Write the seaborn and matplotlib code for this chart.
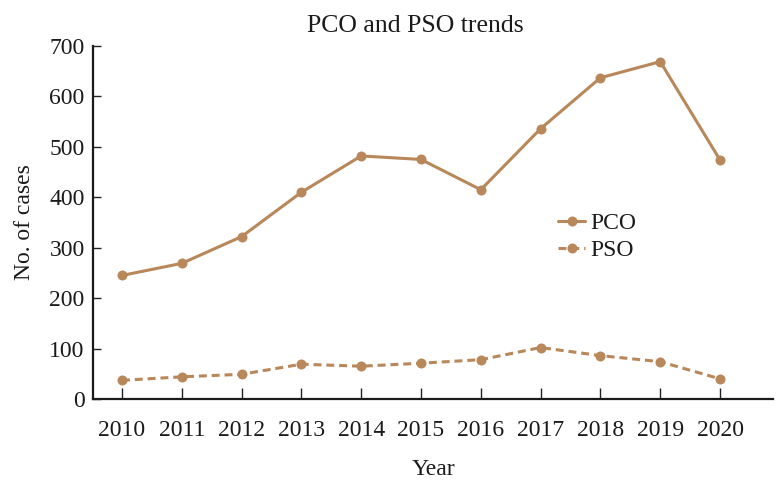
import matplotlib
matplotlib.use("Agg")
import matplotlib.pyplot as plt
import seaborn as sns
import pandas as pd

years = [2010, 2011, 2012, 2013, 2014, 2015, 2016, 2017, 2018, 2019, 2020]
pco = [245, 269, 322, 410, 482, 475, 415, 536, 637, 669, 474]
pso = [37, 44, 49, 69, 65, 71, 78, 102, 86, 74, 40]
series_names = ["PCO", "PSO"]
yticks = [0, 100, 200, 300, 400, 500, 600, 700]

df = pd.DataFrame({
    "Year": years * 2,
    "Cases": pco + pso,
    "Series": [series_names[0]] * len(years) + [series_names[1]] * len(years),
})

sns.set_style("ticks")
plt.rcParams["font.family"] = ["Liberation Serif", "DejaVu Serif"]

color = "#B8875A"
fs = 17
fig = plt.figure(figsize=(7.8, 4.95), dpi=100)
ax = fig.add_axes([93 / 780, 1 - 399 / 495, 680 / 780, 353 / 495])

sns.lineplot(data=df, x="Year", y="Cases", style="Series",
             markers={"PCO": "o", "PSO": "o"},
             dashes={"PCO": "", "PSO": (2.6, 1.6)},
             color=color, linewidth=2.2, markersize=7.2,
             markeredgewidth=0, ax=ax)

ax.set_xlim(2010 - 0.485, 2020 + 0.886)
ax.set_ylim(0, 700)
ax.set_xticks(years)
ax.set_xticklabels([str(y) for y in years])
ax.set_yticks(yticks)
ax.tick_params(axis="both", direction="in", labelsize=fs, colors="#222222",
               width=1.0, labelcolor="#1a1a1a")
ax.tick_params(axis="x", length=8, pad=15)
ax.tick_params(axis="y", length=6, pad=6)
for s in ["top", "right"]:
    ax.spines[s].set_visible(False)
for s in ["left", "bottom"]:
    ax.spines[s].set_color("#1a1a1a")
    ax.spines[s].set_linewidth(1.6)

ax.set_xlabel("Year", fontsize=fs, color="#1a1a1a", labelpad=13)
ax.set_ylabel("No. of cases", fontsize=fs, color="#1a1a1a", labelpad=10)

leg = ax.legend(loc="upper left", bbox_to_anchor=(0.684, 0.529), frameon=False,
                fontsize=fs, handlelength=1.15, handletextpad=0.2,
                labelspacing=0.25, borderpad=0, borderaxespad=0)
for t in leg.get_texts():
    t.set_color("#1a1a1a")

fig.text(415 / 780, 1 - 26 / 495, "PCO and PSO trends", ha="center", va="center",
         fontsize=18.5, color="#1a1a1a")

fig.savefig("out.png", dpi=100)
